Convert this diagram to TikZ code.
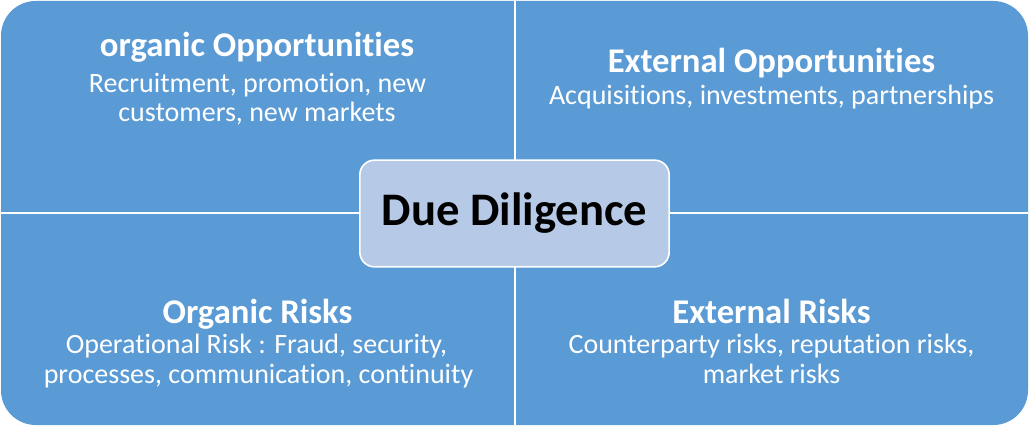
\documentclass[tikz,border=0pt]{standalone}
\usepackage{fontspec}
\setmainfont{Carlito}[Ligatures=CommonOff]
\definecolor{quadblue}{RGB}{91,155,213}
\definecolor{centerblue}{RGB}{182,202,232}
\tikzset{every picture/.style={line width=0.75pt}}

\begin{document}
\begin{tikzpicture}[x=0.75pt,y=0.75pt,yscale=-1,xscale=1,
	head/.style={anchor=base,text=white,inner sep=0,font=\fontsize{26}{31}\selectfont\bfseries},
	body/.style={anchor=base,text=white,inner sep=0,font=\fontsize{21}{25}\selectfont}]
	\useasboundingbox (0,0) rectangle (1030,427);

	%Shape: Rounded Rect [id:panel]
	\fill [quadblue, rounded corners=26pt] (1,1) rectangle (1028,425);
	%Straight Lines [id:splits]
	\coordinate (top) at (515,1);
	\coordinate (bot) at (515,425);
	\coordinate (lft) at (1,213);
	\coordinate (rgt) at (1028,213);
	\draw [white, line width=1.5] (top) -- (bot);
	\draw [white, line width=1.5] (lft) -- (rgt);

	%Shape: Rounded Rect [id:center]
	\node (dd) [fill=centerblue, draw=white, line width=1.2, rounded corners=11pt, minimum width=232pt, minimum height=80pt, font=\fontsize{35}{42}\selectfont\bfseries] at (514.5,213.5) {Due Diligence};

	% Text Node
	\node (orgopp) [head] at (257,57) {organic Opportunities};
	% Text Node
	\node (orgoppa) [body] at (257.5,93) {Recruitment, promotion, new};
	% Text Node
	\node (orgoppb) [body] at (257,122) {customers, new markets};
	% Text Node
	\node (extopp) [head] at (771.5,73) {External Opportunities};
	% Text Node
	\node (extoppa) [body] at (771.5,105) {Acquisitions, investments, partnerships};
	% Text Node
	\node (orgrisk) [head] at (257.5,323) {Organic Risks};
	% Text Node
	\node (orgriska) [body] at (256.5,353) {Operational Risk : Fraud, security,};
	% Text Node
	\node (orgriskb) [body] at (258.5,383) {processes, communication, continuity};
	% Text Node
	\node (extrisk) [head] at (771.5,323) {External Risks};
	% Text Node
	\node (extriska) [body] at (771.5,353) {Counterparty risks, reputation risks,};
	% Text Node
	\node (extriskb) [body] at (771.5,383) {market risks};

\end{tikzpicture}
\end{document}
